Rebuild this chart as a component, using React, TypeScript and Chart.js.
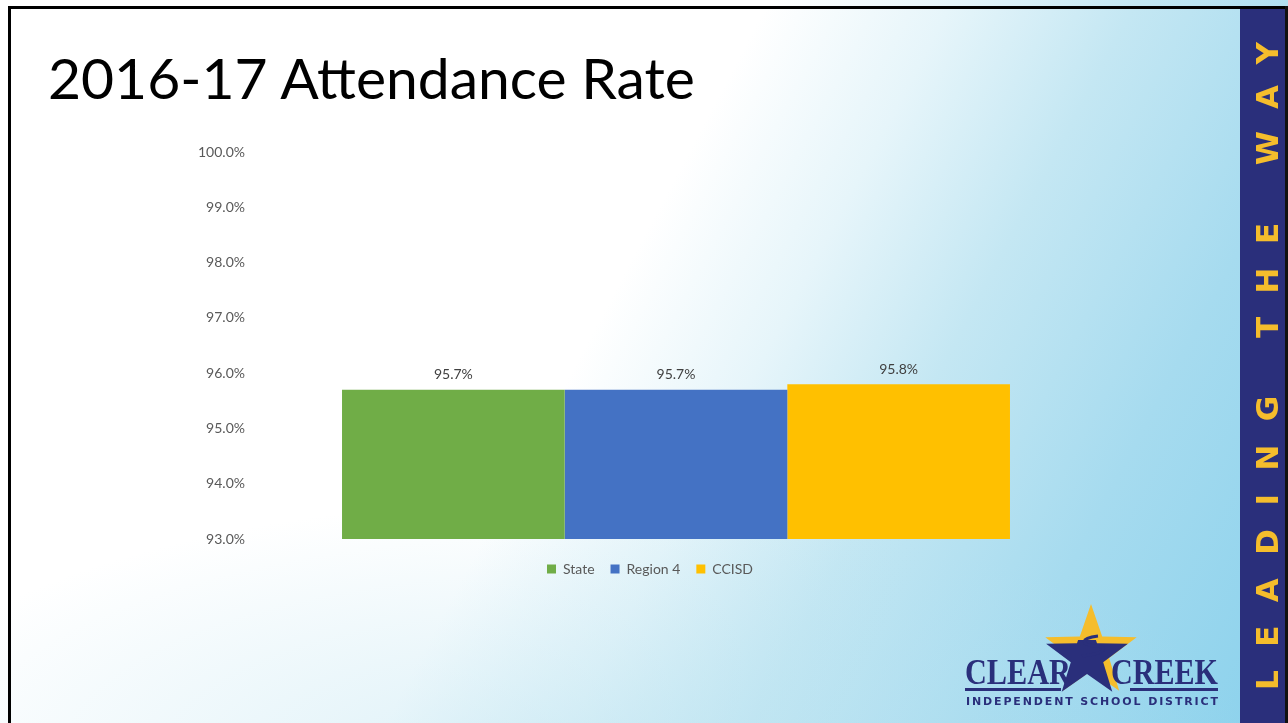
import React, { useEffect, useRef } from "react";
import { Chart, registerables } from "chart.js";

Chart.register(...registerables);

// ---- data ----
const categories = ["2016-17"];
const seriesNames = ["State", "Region 4", "CCISD"];
const stateValues = [95.7];
const region4Values = [95.7];
const ccisdValues = [95.8];
const seriesColors = ["#70AD47", "#4472C4", "#FFC000"];
const yTickMin = 93;
const yTickMax = 100;
const yTickStep = 1;

const FONT = "Lato, 'Open Sans', 'DejaVu Sans', sans-serif";

const valueLabels = {
  id: "valueLabels",
  afterDatasetsDraw(chart: any) {
    const ctx = chart.ctx;
    ctx.save();
    ctx.font = `14px ${FONT}`;
    ctx.fillStyle = "#404040";
    ctx.textAlign = "center";
    ctx.textBaseline = "middle";
    chart.data.datasets.forEach((ds: any, i: number) => {
      const meta = chart.getDatasetMeta(i);
      meta.data.forEach((bar: any, j: number) => {
        ctx.fillText(Number(ds.data[j]).toFixed(1) + "%", bar.x, bar.y - 15);
      });
    });
    ctx.restore();
  },
};

// shift the legend box so that it is centred like the original slide
const legendShift = {
  id: "legendShift",
  afterLayout(chart: any) {
    if (chart.legend) {
      chart.legend.left += 53;
    }
  },
};

function AttendanceChart() {
  const ref = useRef<HTMLCanvasElement | null>(null);
  useEffect(() => {
    if (!ref.current) return;
    const values = [stateValues, region4Values, ccisdValues];
    const chart = new Chart(ref.current, {
      type: "bar",
      data: {
        labels: categories,
        datasets: seriesNames.map((name, i) => ({
          label: name,
          data: values[i],
          backgroundColor: seriesColors[i],
          borderWidth: 0,
          barPercentage: 1,
          categoryPercentage: 0.7933,
        })),
      },
      options: {
        responsive: false,
        animation: false,
        layout: { padding: { left: 150, right: 143, top: 152, bottom: 137 } },
        plugins: {
          legend: {
            position: "bottom",
            labels: {
              boxWidth: 9,
              boxHeight: 9,
              padding: 16,
              color: "#595959",
              font: { family: FONT, size: 14 },
            },
          },
          tooltip: { enabled: false },
          title: { display: false },
        },
        scales: {
          x: {
            display: true,
            ticks: { display: false },
            grid: { display: false, drawTicks: false },
            border: { display: false },
            afterFit: (s: any) => {
              s.height = 7;
            },
          },
          y: {
            min: yTickMin,
            max: yTickMax,
            ticks: {
              stepSize: yTickStep,
              padding: 10,
              color: "#595959",
              font: { family: FONT, size: 14 },
              callback: (v: any) => Number(v).toFixed(1) + "%",
            },
            grid: { display: false, drawTicks: false },
            border: { display: false },
            afterFit: (s: any) => {
              s.width = 105;
            },
          },
        },
      },
      plugins: [valueLabels, legendShift],
    });
    return () => chart.destroy();
  }, []);
  return (
    <canvas
      ref={ref}
      width={1240}
      height={723}
      style={{ position: "absolute", left: 0, top: 0, width: 1240, height: 723 }}
    />
  );
}

function starPoints(cx: number, cy: number, R: number, r: number) {
  const pts: string[] = [];
  for (let i = 0; i < 10; i++) {
    const ang = (-90 + i * 36) * (Math.PI / 180);
    const rad = i % 2 === 0 ? R : r;
    pts.push(`${(cx + rad * Math.cos(ang)).toFixed(1)},${(cy + rad * Math.sin(ang)).toFixed(1)}`);
  }
  return pts.join(" ");
}

export default function App() {
  const navy = "#2a2f7b";
  const gold = "#f5bd2c";
  return (
    <div
      style={{
        position: "fixed",
        left: 0,
        top: 0,
        width: 1288,
        height: 723,
        overflow: "hidden",
        background:
          "radial-gradient(ellipse 700px 260px at 560px 760px, rgba(185,226,240,0.5), rgba(185,226,240,0) 100%), linear-gradient(118deg, #ffffff 0%, #ffffff 46%, #e6f5fa 57%, #c4e7f3 68%, #a6dbef 82%, #8ad1ec 100%)",
        fontFamily: FONT,
      }}
    >
      {/* title */}
      <div
        style={{
          position: "absolute",
          left: 48,
          top: 44,
          fontSize: 57,
          lineHeight: "66px",
          fontWeight: 400,
          color: "#000",
          fontFamily: "Lato, 'Open Sans', sans-serif",
          whiteSpace: "nowrap",
        }}
      >
        2016-17 Attendance Rate
      </div>

      <AttendanceChart />

      {/* sidebar */}
      <div
        style={{
          position: "absolute",
          left: 1240,
          top: 8,
          width: 46,
          height: 715,
          background: navy,
        }}
      />
      <svg
        width={1288}
        height={723}
        style={{ position: "absolute", left: 0, top: 0, pointerEvents: "none" }}
      >
        <defs>
          <clipPath id="lowerStar">
            <rect x={1030} y={640} width={120} height={80} />
          </clipPath>
        </defs>
        <text
          transform="translate(1278,690) rotate(-90)"
          fill={gold}
          fontFamily="'DejaVu Sans', sans-serif"
          fontWeight={700}
          fontSize={31}
          textLength={648}
          lengthAdjust="spacing"
        >
          LEADING THE WAY
        </text>

        {/* logo */}
        <polygon points={starPoints(1091, 652, 48, 19)} fill={gold} />
        <polygon points={starPoints(1087, 657, 43, 17)} fill={navy} clipPath="url(#lowerStar)" />
        <path
          d="M1098,636 C1080,638 1080,645 1096,646 C1110,647 1104,654 1082,656"
          stroke={navy}
          strokeWidth={3}
          fill="none"
        />
        <text
          x={965}
          y={684}
          fill={navy}
          fontFamily="'Liberation Serif', serif"
          fontWeight={700}
          fontSize={36}
          textLength={106}
          lengthAdjust="spacingAndGlyphs"
        >
          CLEAR
        </text>
        <text
          x={1111}
          y={684}
          fill={navy}
          fontFamily="'Liberation Serif', serif"
          fontWeight={700}
          fontSize={36}
          textLength={107}
          lengthAdjust="spacingAndGlyphs"
        >
          CREEK
        </text>
        <rect x={965} y={688} width={96} height={3} fill={navy} />
        <rect x={1130} y={688} width={88} height={3} fill={navy} />
        <text
          x={966}
          y={705}
          fill={navy}
          fontFamily="'DejaVu Sans', sans-serif"
          fontWeight={700}
          fontSize={11}
          textLength={252}
          lengthAdjust="spacing"
        >
          INDEPENDENT SCHOOL DISTRICT
        </text>

        {/* slide border */}
        <rect x={8} y={6} width={1280} height={3} fill="#000" />
        <rect x={8} y={6} width={3} height={717} fill="#000" />
        <rect x={1285} y={6} width={3} height={717} fill="#111" />
      </svg>
    </div>
  );
}
